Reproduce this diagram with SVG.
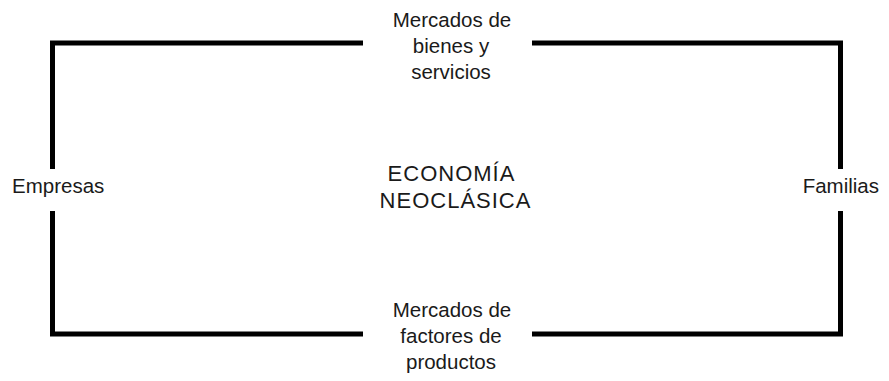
<svg xmlns="http://www.w3.org/2000/svg" width="889" height="381" viewBox="0 0 889 381">
<style>
.t{font-family:"Liberation Sans","Open Sans",Arial,sans-serif;font-size:20.5px;fill:#1a1a1a}
.m{text-anchor:middle}
.c{font-size:22px;letter-spacing:1px}
.ln{fill:none;stroke:#000;stroke-width:5;stroke-linejoin:miter;stroke-linecap:butt}
</style>
<rect width="889" height="381" fill="#fff"/>
<g id="connectors">
<path class="ln" d="M52.5,169 V43 H363"/>
<path class="ln" d="M532,43 H840.5 V169"/>
<path class="ln" d="M52.5,211 V334 H363"/>
<path class="ln" d="M532,334 H840.5 V211"/>
</g>
<g id="bienes">
<text class="t m" x="452" y="27">Mercados de</text>
<text class="t m" x="451" y="53">bienes y</text>
<text class="t m" x="451" y="79">servicios</text>
</g>
<g id="factores">
<text class="t m" x="452" y="317">Mercados de</text>
<text class="t m" x="451" y="343">factores de</text>
<text class="t m" x="451" y="369">productos</text>
</g>
<g id="empresas">
<text class="t" x="12" y="193">Empresas</text>
</g>
<g id="familias">
<text class="t" x="879" y="193" text-anchor="end">Familias</text>
</g>
<g id="economia">
<text class="t m c" x="451.5" y="181">ECONOMÍA</text>
<text class="t m c" x="455.5" y="208">NEOCLÁSICA</text>
</g>
</svg>
